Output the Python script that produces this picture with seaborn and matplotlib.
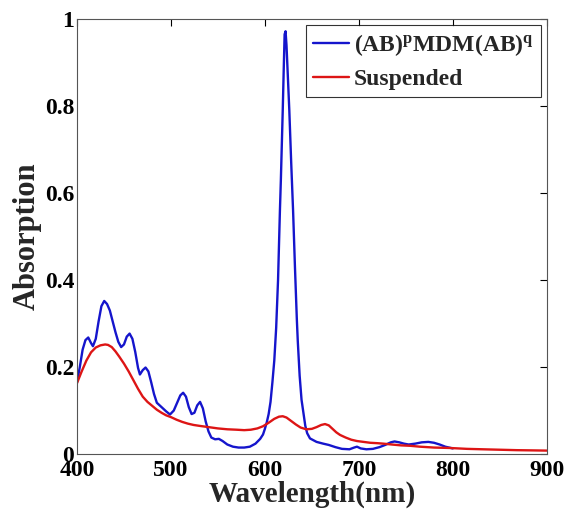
import pandas as pd
import matplotlib
matplotlib.use('Agg')
import matplotlib.pyplot as plt
import seaborn as sns

# blue curve: (AB)^p MDM (AB)^q
blue_nm = [400, 403, 406, 409, 412, 415, 417, 420, 423, 426, 429, 432, 435, 438, 441, 444, 447,
           450, 453, 456, 459, 462, 465, 467, 470, 473, 476, 479, 482, 485, 490, 495, 499, 503,
           507, 510, 513, 516, 519, 522, 525, 528, 531, 534, 537, 540, 543, 547, 551, 555, 560,
           566, 572, 578, 584, 590, 595, 598, 600, 602, 604, 606, 608, 610, 612, 614, 615, 616,
           617, 618, 619, 620, 621, 622, 623, 624, 625, 626, 628, 630, 632, 634, 635, 637, 639,
           641, 643, 645, 648, 655, 662, 668, 675, 682, 690, 695, 698, 702, 708, 715, 722, 728,
           734, 738, 743, 748, 753, 760, 767, 774, 780, 786, 792, 800]
blue_abs = [0.165, 0.200, 0.240, 0.262, 0.268, 0.255, 0.248, 0.265, 0.305, 0.340, 0.352, 0.345,
            0.330, 0.305, 0.280, 0.258, 0.246, 0.252, 0.270, 0.277, 0.265, 0.235, 0.198, 0.183,
            0.193, 0.199, 0.190, 0.165, 0.138, 0.118, 0.108, 0.098, 0.091, 0.100, 0.120, 0.135,
            0.141, 0.132, 0.108, 0.092, 0.095, 0.112, 0.120, 0.105, 0.075, 0.052, 0.038, 0.034,
            0.035, 0.030, 0.022, 0.017, 0.015, 0.015, 0.017, 0.024, 0.035, 0.045, 0.058, 0.073,
            0.092, 0.120, 0.165, 0.215, 0.290, 0.400, 0.480, 0.560, 0.630, 0.710, 0.790, 0.880,
            0.965, 0.972, 0.940, 0.890, 0.840, 0.790, 0.670, 0.560, 0.430, 0.310, 0.260, 0.180,
            0.125, 0.095, 0.065, 0.048, 0.036, 0.028, 0.024, 0.021, 0.016, 0.012, 0.011, 0.015,
            0.017, 0.013, 0.011, 0.012, 0.016, 0.021, 0.027, 0.029, 0.027, 0.024, 0.022, 0.024,
            0.027, 0.028, 0.026, 0.022, 0.017, 0.013]

# red curve: suspended
red_nm = [400, 405, 410, 415, 420, 425, 430, 433, 437, 441, 445, 450, 455, 460, 465, 470, 475,
          480, 485, 490, 495, 500, 506, 512, 518, 524, 530, 540, 550, 560, 570, 578, 585, 592,
          598, 604, 610, 615, 619, 623, 628, 633, 638, 644, 650, 655, 660, 664, 668, 672, 676,
          680, 686, 692, 698, 705, 712, 720, 726, 735, 745, 755, 765, 780, 797, 815, 832, 850,
          868, 885, 900]
red_abs = [0.163, 0.190, 0.215, 0.234, 0.245, 0.250, 0.252, 0.251, 0.246, 0.236, 0.224, 0.208,
           0.190, 0.170, 0.150, 0.132, 0.120, 0.111, 0.102, 0.095, 0.089, 0.085, 0.079, 0.074,
           0.070, 0.067, 0.065, 0.062, 0.059, 0.057, 0.056, 0.055, 0.056, 0.059, 0.064, 0.072,
           0.081, 0.086, 0.087, 0.084, 0.076, 0.068, 0.061, 0.057, 0.058, 0.062, 0.067, 0.069,
           0.066, 0.058, 0.050, 0.044, 0.038, 0.033, 0.030, 0.028, 0.026, 0.025, 0.024, 0.022,
           0.020, 0.019, 0.017, 0.015, 0.014, 0.012, 0.011, 0.010, 0.009, 0.0085, 0.008]

x_ticks = [400, 500, 600, 700, 800, 900]
y_ticks = [0, 0.2, 0.4, 0.6, 0.8, 1]
y_tick_labels = ['0', '0.2', '0.4', '0.6', '0.8', '1']

sns.set_theme(style='white')
plt.rcParams['font.family'] = ['Liberation Serif', 'DejaVu Serif']
plt.rcParams['font.weight'] = 'bold'
plt.rcParams['mathtext.fontset'] = 'custom'
plt.rcParams['mathtext.bf'] = 'Liberation Serif:bold'
plt.rcParams['mathtext.rm'] = 'Liberation Serif:bold'
plt.rcParams['mathtext.it'] = 'Liberation Serif:bold'

blue_df = pd.DataFrame({'wavelength': blue_nm, 'absorption': blue_abs})
red_df = pd.DataFrame({'wavelength': red_nm, 'absorption': red_abs})

fig = plt.figure(figsize=(5.66, 5.16), dpi=100)
ax = fig.add_axes([0.136, 0.120, 0.830, 0.843])

sns.lineplot(data=blue_df, x='wavelength', y='absorption', ax=ax, color='#1515cc',
             linewidth=1.7, label=r'(AB)$^{\mathbf{p}}$MDM(AB)$^{\mathbf{q}}$', sort=False)
sns.lineplot(data=red_df, x='wavelength', y='absorption', ax=ax, color='#dd1515',
             linewidth=1.7, label='Suspended', sort=False)

ax.set_xlim(400, 900)
ax.set_ylim(0, 1)
ax.set_xticks(x_ticks)
ax.set_xticklabels([str(t) for t in x_ticks])
ax.set_yticks(y_ticks)
ax.set_yticklabels(y_tick_labels)
ax.tick_params(direction='in', top=True, right=True, length=5, width=0.8,
               labelsize=17, colors='black')
ax.tick_params(axis='x', pad=4)
ax.tick_params(axis='y', pad=2)
for lab in ax.get_xticklabels() + ax.get_yticklabels():
    lab.set_fontweight('bold')
for sp in ax.spines.values():
    sp.set_color('#555555')
    sp.set_linewidth(0.8)

ax.set_xlabel('Wavelength(nm)', fontsize=21, fontweight='bold', labelpad=0)
ax.set_ylabel('Absorption', fontsize=22, fontweight='bold', labelpad=2)

leg = ax.legend(loc='upper right', fontsize=17, frameon=True, fancybox=False,
                edgecolor='black', borderaxespad=0.25, handlelength=1.55,
                handletextpad=0.2, borderpad=0.3, labelspacing=0.45)
leg.get_frame().set_linewidth(0.8)
for t in leg.get_texts():
    t.set_fontweight('bold')

fig.savefig('out.png', dpi=100)
